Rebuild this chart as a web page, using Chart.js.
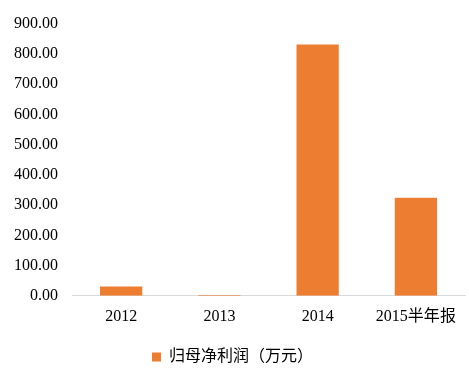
<!DOCTYPE html>
<html>
<head>
<meta charset="utf-8">
<script src="https://cdn.jsdelivr.net/npm/chart.js@4"></script>
<style>
  html, body { margin: 0; padding: 0; background: #fff; }
  #wrap { width: 469px; height: 378px; }
</style>
</head>
<body>
<div id="wrap"><canvas id="profitChart"></canvas></div>
<script>
const categories = ['2012', '2013', '2014', '2015半年报'];
const netProfit = [31, 3, 831, 324]; // 归母净利润（万元）
const yTicks = { min: 0, max: 900, step: 100 };

const ctx = document.getElementById('profitChart').getContext('2d');
const fontFamily = '"Liberation Serif", "Times New Roman", "Noto Sans CJK SC", serif';

new Chart(ctx, {
    type: 'bar',
    data: {
        labels: categories,
        datasets: [{
            label: '归母净利润（万元）',
            data: netProfit,
            backgroundColor: '#ED7D31',
            borderWidth: 0,
            barPercentage: 0.43,
            categoryPercentage: 1.0
        }]
    },
    options: {
        responsive: true,
        maintainAspectRatio: false,
        animation: false,
        layout: { padding: { top: 2, right: 4, left: 0, bottom: 3 } },
        plugins: {
            legend: {
                position: 'bottom',
                labels: {
                    boxWidth: 9,
                    boxHeight: 9,
                    color: '#000',
                    padding: 12,
                    font: { family: fontFamily, size: 16 }
                }
            },
            tooltip: { enabled: false }
        },
        scales: {
            x: {
                grid: { display: false, drawTicks: false },
                border: { color: '#d9d9d9', width: 1 },
                ticks: {
                    color: '#000',
                    padding: 11,
                    maxRotation: 0,
                    font: { family: fontFamily, size: 16 }
                }
            },
            y: {
                min: yTicks.min,
                max: yTicks.max,
                grid: { display: false, drawTicks: false },
                border: { display: false },
                ticks: {
                    stepSize: yTicks.step,
                    color: '#000',
                    padding: 14,
                    font: { family: fontFamily, size: 16 },
                    callback: v => v.toFixed(2)
                }
            }
        }
    }
});
</script>
</body>
</html>
